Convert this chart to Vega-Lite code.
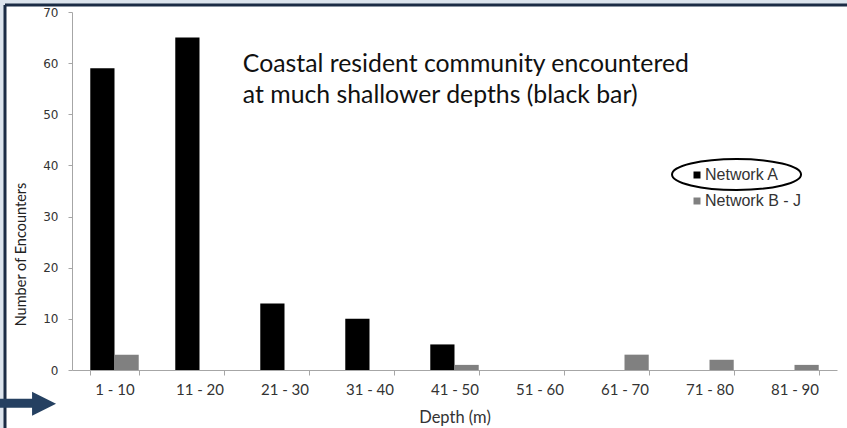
{
  "$schema": "https://vega.github.io/schema/vega-lite/v6.json",
  "width": 842,
  "height": 423,
  "autosize": {"type": "none"},
  "padding": {"left": 5, "top": 5, "right": 0, "bottom": 0},
  "background": "#dce4ed",
  "config": {"view": {"stroke": "#1b2c45", "strokeWidth": 3, "strokeDash": [842, 1265, 423, 0], "fill": "white"}},
  "datasets": {
    "bars": [
      {"depth": "1 - 10", "network": "Network A", "count": 59},
      {"depth": "1 - 10", "network": "Network B - J", "count": 3},
      {"depth": "11 - 20", "network": "Network A", "count": 65},
      {"depth": "11 - 20", "network": "Network B - J", "count": 0},
      {"depth": "21 - 30", "network": "Network A", "count": 13},
      {"depth": "21 - 30", "network": "Network B - J", "count": 0},
      {"depth": "31 - 40", "network": "Network A", "count": 10},
      {"depth": "31 - 40", "network": "Network B - J", "count": 0},
      {"depth": "41 - 50", "network": "Network A", "count": 5},
      {"depth": "41 - 50", "network": "Network B - J", "count": 1},
      {"depth": "51 - 60", "network": "Network A", "count": 0},
      {"depth": "51 - 60", "network": "Network B - J", "count": 0},
      {"depth": "61 - 70", "network": "Network A", "count": 0},
      {"depth": "61 - 70", "network": "Network B - J", "count": 3},
      {"depth": "71 - 80", "network": "Network A", "count": 0},
      {"depth": "71 - 80", "network": "Network B - J", "count": 2},
      {"depth": "81 - 90", "network": "Network A", "count": 0},
      {"depth": "81 - 90", "network": "Network B - J", "count": 1}
    ]
  },
  "layer": [
    {
      "data": {"name": "bars"},
      "mark": {"type": "bar"},
      "encoding": {
        "x": {
          "field": "depth",
          "type": "nominal",
          "scale": {
            "domain": ["1 - 10", "11 - 20", "21 - 30", "31 - 40", "41 - 50", "51 - 60", "61 - 70", "71 - 80", "81 - 90"],
            "range": [67, 832],
            "paddingInner": 0.43,
            "paddingOuter": 0.215
          },
          "axis": {
            "title": "Depth (m)",
            "orient": "bottom",
            "offset": -58,
            "tickBand": "extent",
            "tickSize": 5,
            "domainColor": "#a6a6a6",
            "tickColor": "#a6a6a6",
            "labelFont": "Lato",
            "labelFontSize": 15,
            "labelColor": "#333333",
            "labelPadding": 7,
            "labelAngle": 0,
            "grid": false,
            "titleFont": "Lato",
            "titleFontSize": 16.5,
            "titleFontWeight": "normal",
            "titleColor": "#333333",
            "titleY": 47,
            "titleBaseline": "middle"
          }
        },
        "xOffset": {"field": "network", "type": "nominal", "scale": {"paddingInner": 0, "paddingOuter": 0}},
        "y": {
          "field": "count",
          "type": "quantitative",
          "scale": {"domain": [0, 70], "range": [365, 7], "nice": false},
          "axis": {
            "title": "Number of Encounters",
            "offset": -67,
            "values": [0, 10, 20, 30, 40, 50, 60, 70],
            "tickSize": 4,
            "domainColor": "#a6a6a6",
            "tickColor": "#a6a6a6",
            "labelFont": "DejaVu Sans",
            "labelFontSize": 12,
            "labelColor": "#333333",
            "labelPadding": 10,
            "grid": false,
            "titleFont": "Lato",
            "titleFontSize": 14.5,
            "titleFontWeight": "normal",
            "titleColor": "#222222",
            "titleX": -51,
            "titleY": 249,
            "titleAngle": -90,
            "titleAlign": "center",
            "titleBaseline": "middle"
          }
        },
        "color": {
          "field": "network",
          "type": "nominal",
          "scale": {"domain": ["Network A", "Network B - J"], "range": ["#000000", "#808080"]},
          "legend": {
            "orient": "none",
            "legendX": 684,
            "legendY": 162,
            "title": null,
            "symbolType": "square",
            "symbolSize": 49,
            "symbolStrokeWidth": 0,
            "labelFont": "Liberation Sans",
            "labelFontSize": 16,
            "labelColor": "#333333",
            "labelOffset": 0,
            "rowPadding": 10,
            "padding": 0
          }
        }
      }
    },
    {
      "layer": [
        {
          "data": {"values": [{"note": "Coastal resident community encountered\nat much shallower depths (black bar)"}]},
          "mark": {"type": "text", "align": "left", "baseline": "alphabetic", "font": "Lato", "fontSize": 24.8, "lineHeight": 31, "lineBreak": "\n", "color": "#111111"},
          "encoding": {
            "x": {"datum": 2.01, "type": "quantitative", "scale": {"domain": [0, 9], "range": [67, 832], "zero": false, "nice": false}, "axis": null},
            "y": {"datum": 58.3, "type": "quantitative", "scale": {"domain": [0, 70], "range": [365, 7], "zero": false, "nice": false}, "axis": null},
            "text": {"field": "note"}
          }
        },
        {
          "data": {"values": [{}]},
          "mark": {"type": "rule", "strokeWidth": 9, "strokeCap": "butt", "color": "#254061"},
          "encoding": {
            "x": {"datum": -0.9},
            "x2": {"datum": -0.4},
            "y": {"datum": -6.5}
          }
        },
        {
          "data": {"values": [{}]},
          "mark": {"type": "point", "shape": "M-1,-1L1,0L-1,1Z", "size": 576, "filled": true, "opacity": 1, "color": "#254061"},
          "encoding": {
            "x": {"datum": -0.329},
            "y": {"datum": -6.6}
          }
        },
        {
          "data": {"values": [{}]},
          "mark": {"type": "point", "shape": "M-1,0A1,0.24,0,1,1,1,0A1,0.24,0,1,1,-1,0Z", "size": 16641, "filled": false, "opacity": 1, "stroke": "#000000", "strokeWidth": 2},
          "encoding": {
            "x": {"datum": 7.818},
            "y": {"datum": 38.23}
          }
        }
      ]
    }
  ],
  "resolve": {"scale": {"x": "independent", "y": "independent"}, "axis": {"x": "independent", "y": "independent"}}
}
